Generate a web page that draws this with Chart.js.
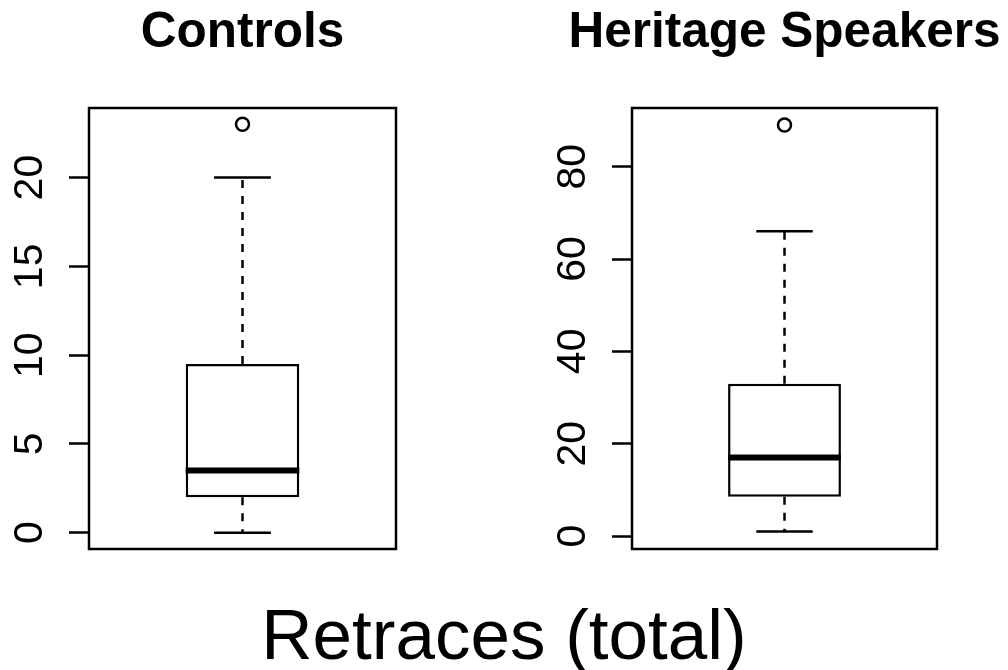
<!doctype html>
<html>

<head>
    <title>Retraces</title>
    <script src="https://cdn.jsdelivr.net/npm/chart.js"></script>
</head>

<style>
    body {
        margin: 0;
        background: white;
        overflow: hidden;
        font-family: 'Liberation Sans', Arial, Helvetica, sans-serif;
    }

    #page {
        position: relative;
        width: 1008px;
        height: 670px;
    }

    canvas {
        position: absolute;
        top: 0;
    }

    .titulo {
        position: absolute;
        top: 5px;
        font-size: 49.5px;
        font-weight: bold;
        line-height: 49px;
        text-align: center;
        color: black;
    }

    #eixo {
        position: absolute;
        left: 0;
        top: 600px;
        width: 1008px;
        font-size: 71px;
        line-height: 70px;
        text-align: center;
        color: black;
    }
</style>

<body>
    <div id="page">
        <canvas id="painel0" width="504" height="670" style="left: 0px;"></canvas>
        <canvas id="painel1" width="504" height="670" style="left: 504px;"></canvas>
        <div class="titulo" id="titulo0" style="left: 0px; width: 485px;"></div>
        <div class="titulo" id="titulo1" style="left: 561px; width: 447px;"></div>
        <div id="eixo"></div>
    </div>

    <script>
        // dados
        var grupos = ['Controls', 'Heritage Speakers'];
        var bigodeMin = [0, 1];
        var q1 = [2, 8.5];
        var mediana = [3.5, 17];
        var q3 = [9.5, 33];
        var bigodeMax = [20, 66];
        var outliers = [[23], [89]];
        var ticksY = [[0, 5, 10, 15, 20], [0, 20, 40, 60, 80]];
        var limitesY = [[-0.92, 23.92], [-2.8, 92.7]];
        var tituloEixo = 'Retraces (total)';

        // layout de cada painel (pixels do canvas)
        var larguraEixo = [89, 128];
        var margemDireita = [108, 71];
        var linha = 2.5;

        document.getElementById('titulo0').textContent = grupos[0];
        document.getElementById('titulo1').textContent = grupos[1];
        document.getElementById('eixo').textContent = tituloEixo;

        // mediana, bigodes e moldura do boxplot
        var partesBox = {
            id: 'partesBox',
            afterDatasetsDraw(chart) {
                var i = chart.options.plugins.partesBox.painel;
                var y = chart.scales.y;
                var barra = chart.getDatasetMeta(0).data[0];
                var cx = barra.x;
                var meia = barra.width / 2;
                var ctx = chart.ctx;
                ctx.save();
                ctx.strokeStyle = 'black';
                ctx.lineWidth = linha;

                ctx.setLineDash([8, 8]);
                ctx.beginPath();
                ctx.moveTo(cx, y.getPixelForValue(q3[i]));
                ctx.lineTo(cx, y.getPixelForValue(bigodeMax[i]));
                ctx.moveTo(cx, y.getPixelForValue(q1[i]));
                ctx.lineTo(cx, y.getPixelForValue(bigodeMin[i]));
                ctx.stroke();

                ctx.setLineDash([]);
                ctx.beginPath();
                ctx.moveTo(cx - meia / 2, y.getPixelForValue(bigodeMax[i]));
                ctx.lineTo(cx + meia / 2, y.getPixelForValue(bigodeMax[i]));
                ctx.moveTo(cx - meia / 2, y.getPixelForValue(bigodeMin[i]));
                ctx.lineTo(cx + meia / 2, y.getPixelForValue(bigodeMin[i]));
                ctx.stroke();

                ctx.lineWidth = 6;
                ctx.beginPath();
                ctx.moveTo(cx - meia, y.getPixelForValue(mediana[i]));
                ctx.lineTo(cx + meia, y.getPixelForValue(mediana[i]));
                ctx.stroke();
                ctx.restore();
            },
            afterDraw(chart) {
                var a = chart.chartArea;
                var ctx = chart.ctx;
                ctx.save();
                ctx.strokeStyle = 'black';
                ctx.lineWidth = linha;
                ctx.strokeRect(a.left, a.top, a.right - a.left, a.bottom - a.top);
                ctx.restore();
            }
        };

        function criarPainel(i) {
            return new Chart(document.getElementById('painel' + i).getContext('2d'), {
                type: 'bar',
                data: {
                    labels: [grupos[i]],
                    datasets: [{
                        data: [[q1[i], q3[i]]],
                        backgroundColor: 'white',
                        borderColor: 'black',
                        borderWidth: linha,
                        borderSkipped: false,
                        barPercentage: 0.37,
                        categoryPercentage: 1
                    }, {
                        type: 'line',
                        data: outliers[i],
                        showLine: false,
                        pointStyle: 'circle',
                        pointRadius: 6.5,
                        pointBorderWidth: linha,
                        pointBorderColor: 'black',
                        pointBackgroundColor: 'rgba(0,0,0,0)'
                    }]
                },
                options: {
                    responsive: false,
                    animation: false,
                    layout: {
                        padding: { left: 0, right: margemDireita[i], top: 108, bottom: 121 }
                    },
                    plugins: {
                        legend: { display: false },
                        tooltip: { enabled: false },
                        partesBox: { painel: i }
                    },
                    scales: {
                        x: { display: false },
                        y: {
                            min: limitesY[i][0],
                            max: limitesY[i][1],
                            afterBuildTicks: (s) => {
                                s.ticks = ticksY[i].map(v => ({ value: v }));
                            },
                            afterFit: (s) => {
                                s.width = larguraEixo[i];
                            },
                            border: { display: false },
                            grid: {
                                drawOnChartArea: false,
                                drawTicks: true,
                                tickLength: 20,
                                tickWidth: linha,
                                tickColor: 'black'
                            },
                            ticks: {
                                minRotation: 90,
                                maxRotation: 90,
                                crossAlign: 'center',
                                padding: 16,
                                color: 'black',
                                font: { family: "'Liberation Sans', Arial, sans-serif", size: 41 }
                            }
                        }
                    }
                },
                plugins: [partesBox]
            });
        }

        var painel0 = criarPainel(0);
        var painel1 = criarPainel(1);
    </script>
</body>

</html>
